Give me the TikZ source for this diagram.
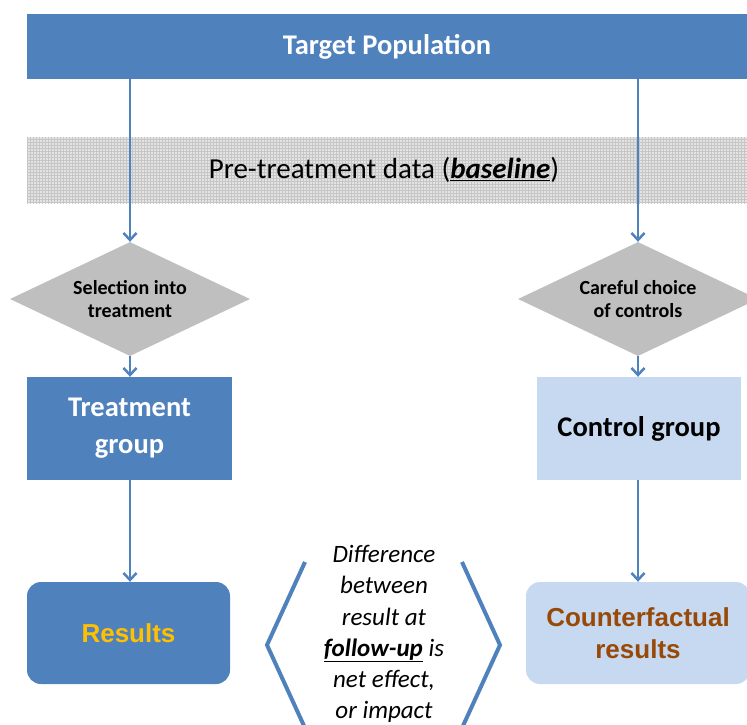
\documentclass[tikz,border=0pt]{standalone}
\usepackage{fontspec}
\setmainfont{Carlito}
\newfontfamily\arialfont{Liberation Sans}
\usetikzlibrary{arrows.meta, shapes.geometric, patterns}

\definecolor{popblue}{RGB}{79,129,189}
\definecolor{ctrlblue}{RGB}{198,217,241}
\definecolor{choicegray}{RGB}{191,191,191}
\definecolor{resyellow}{RGB}{255,192,0}
\definecolor{cfbrown}{RGB}{152,72,7}

\begin{document}
\begin{tikzpicture}[x=1pt, y=-1pt,
    flow/.style={draw=popblue, line width=2.5pt, -{Straight Barb[length=7pt, width=13pt, line width=2.5pt]}},
    groupbox/.style={rectangle, minimum width=205pt, minimum height=103pt, inner sep=0pt, align=center,
      font=\bfseries\fontsize{28.5}{37}\selectfont},
    choice/.style={diamond, aspect=2.1, fill=choicegray, minimum width=240pt, minimum height=114pt, inner sep=0pt,
      align=center, font=\bfseries\fontsize{20}{23}\selectfont},
    resultbox/.style={rectangle, rounded corners=14pt, minimum height=102pt, inner sep=0pt, align=center,
      font=\arialfont\bfseries\fontsize{26}{32}\selectfont}]
  \useasboundingbox (0, 0) rectangle (747, 724);
  \clip (0, 0) rectangle (747, 724);

  % top bar and baseline band
  \node [fill=popblue, text=white, minimum width=720pt, minimum height=65pt, inner sep=0pt,
    font=\bfseries\fontsize{28.5}{34}\selectfont] (pop) at (387, 46.5) {Target Population};
  \fill [gray!22] (27, 137) rectangle (747, 203);
  \fill [pattern=grid, pattern color=gray!45] (27, 137) rectangle (747, 203);
  \node [font=\fontsize{29}{34}\selectfont] (base) at (384, 170)
    {Pre-treatment data (\underline{\textbf{\textit{baseline}}})};

  % the two branches
  \node [choice] (sel) at (130, 299) {Selection into\\treatment};
  \node [choice] (care) at (638, 299) {Careful choice\\of controls};

  \node [groupbox, fill=popblue, text=white] (treat) at (129.5, 428.5) {Treatment\\group};
  \node [groupbox, fill=ctrlblue, text=black, minimum width=204pt] (ctrl) at (639, 428.5) {Control group};

  \node [resultbox, fill=popblue, text=resyellow, minimum width=203pt] (res) at (128.5, 633) {Results};
  \node [resultbox, fill=ctrlblue, text=cfbrown, minimum width=224pt] (cf) at (638, 633) {Counterfactual\\results};

  \draw [flow] (sel.north |- pop.south) -- (sel.north);
  \draw [flow] (care.north |- pop.south) -- (care.north);
  \draw [flow] (sel.south) -- (sel.south |- treat.north);
  \draw [flow] (care.south) -- (care.south |- ctrl.north);
  \draw [flow] (sel.south |- treat.south) -- (sel.south |- res.north);
  \draw [flow] (care.south |- ctrl.south) -- (care.south |- cf.north);

  % difference between the results
  \draw [popblue, line width=4pt] (305, 562) -- (267, 645) -- (305, 728);
  \draw [popblue, line width=4pt] (462, 562) -- (500, 645) -- (462, 728);
  \node [align=center, font=\itshape\fontsize{25}{31.2}\selectfont] (diff) at (384, 634)
    {Difference\\between\\result at\\\underline{\textbf{follow-up}} is\\net effect,\\or impact};
\end{tikzpicture}
\end{document}
